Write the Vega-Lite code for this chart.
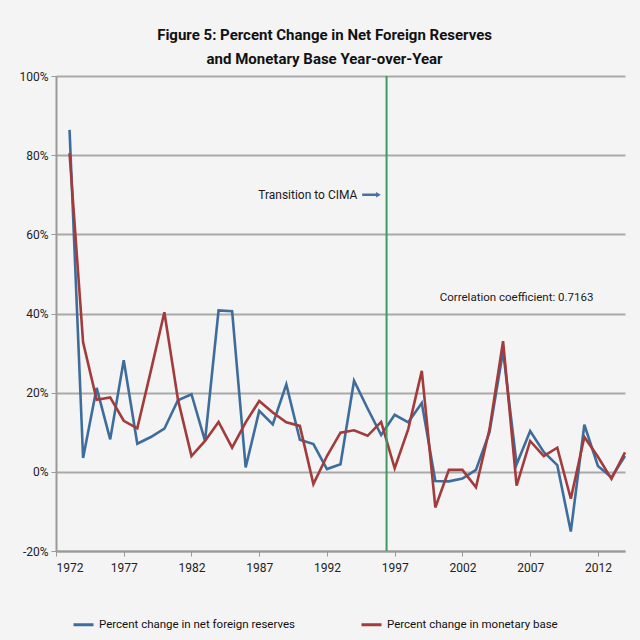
{
  "$schema": "https://vega.github.io/schema/vega-lite/v6.json",
  "width": 569,
  "height": 475,
  "autosize": "none",
  "padding": {"left": 56, "top": 76, "right": 15, "bottom": 89},
  "background": "#f4f4f4",
  "config": {
    "view": {"stroke": null},
    "font": "Roboto"
  },
  "title": {
    "text": ["Figure 5: Percent Change in Net Foreign Reserves", "and Monetary Base Year-over-Year"],
    "anchor": "middle",
    "frame": "bounds",
    "fontSize": 15,
    "fontWeight": "bold",
    "color": "#111111",
    "lineHeight": 24,
    "offset": 3
  },
  "datasets": {
    "notes": [
      {"label": "Transition to CIMA", "kind": "transition"},
      {"label": "Correlation coefficient: 0.7163", "kind": "correlation"}
    ]
  },
  "layer": [
    {
      "data": {
        "values": [
          {"year": 1973, "series": "Percent change in net foreign reserves", "value": 86.4},
          {"year": 1974, "series": "Percent change in net foreign reserves", "value": 3.5},
          {"year": 1975, "series": "Percent change in net foreign reserves", "value": 21.2},
          {"year": 1976, "series": "Percent change in net foreign reserves", "value": 8.2},
          {"year": 1977, "series": "Percent change in net foreign reserves", "value": 28.2},
          {"year": 1978, "series": "Percent change in net foreign reserves", "value": 7.1},
          {"year": 1979, "series": "Percent change in net foreign reserves", "value": 8.8},
          {"year": 1980, "series": "Percent change in net foreign reserves", "value": 10.9},
          {"year": 1981, "series": "Percent change in net foreign reserves", "value": 18.1},
          {"year": 1982, "series": "Percent change in net foreign reserves", "value": 19.6},
          {"year": 1983, "series": "Percent change in net foreign reserves", "value": 7.8},
          {"year": 1984, "series": "Percent change in net foreign reserves", "value": 40.8},
          {"year": 1985, "series": "Percent change in net foreign reserves", "value": 40.6},
          {"year": 1986, "series": "Percent change in net foreign reserves", "value": 1.1},
          {"year": 1987, "series": "Percent change in net foreign reserves", "value": 15.4},
          {"year": 1988, "series": "Percent change in net foreign reserves", "value": 12.0},
          {"year": 1989, "series": "Percent change in net foreign reserves", "value": 22.1},
          {"year": 1990, "series": "Percent change in net foreign reserves", "value": 8.1},
          {"year": 1991, "series": "Percent change in net foreign reserves", "value": 7.0},
          {"year": 1992, "series": "Percent change in net foreign reserves", "value": 0.7},
          {"year": 1993, "series": "Percent change in net foreign reserves", "value": 1.9},
          {"year": 1994, "series": "Percent change in net foreign reserves", "value": 23.0},
          {"year": 1995, "series": "Percent change in net foreign reserves", "value": 16.0},
          {"year": 1996, "series": "Percent change in net foreign reserves", "value": 9.3},
          {"year": 1997, "series": "Percent change in net foreign reserves", "value": 14.4},
          {"year": 1998, "series": "Percent change in net foreign reserves", "value": 12.5},
          {"year": 1999, "series": "Percent change in net foreign reserves", "value": 17.4},
          {"year": 2000, "series": "Percent change in net foreign reserves", "value": -2.3},
          {"year": 2001, "series": "Percent change in net foreign reserves", "value": -2.4},
          {"year": 2002, "series": "Percent change in net foreign reserves", "value": -1.7},
          {"year": 2003, "series": "Percent change in net foreign reserves", "value": 0.5},
          {"year": 2004, "series": "Percent change in net foreign reserves", "value": 10.0},
          {"year": 2005, "series": "Percent change in net foreign reserves", "value": 30.5},
          {"year": 2006, "series": "Percent change in net foreign reserves", "value": 1.9},
          {"year": 2007, "series": "Percent change in net foreign reserves", "value": 10.3},
          {"year": 2008, "series": "Percent change in net foreign reserves", "value": 5.0},
          {"year": 2009, "series": "Percent change in net foreign reserves", "value": 1.7},
          {"year": 2010, "series": "Percent change in net foreign reserves", "value": -15.1},
          {"year": 2011, "series": "Percent change in net foreign reserves", "value": 11.9},
          {"year": 2012, "series": "Percent change in net foreign reserves", "value": 1.5},
          {"year": 2013, "series": "Percent change in net foreign reserves", "value": -1.4},
          {"year": 2014, "series": "Percent change in net foreign reserves", "value": 4.0},
          {"year": 1973, "series": "Percent change in monetary base", "value": 80.5},
          {"year": 1974, "series": "Percent change in monetary base", "value": 32.7},
          {"year": 1975, "series": "Percent change in monetary base", "value": 18.2},
          {"year": 1976, "series": "Percent change in monetary base", "value": 18.8},
          {"year": 1977, "series": "Percent change in monetary base", "value": 12.9},
          {"year": 1978, "series": "Percent change in monetary base", "value": 11.0},
          {"year": 1979, "series": "Percent change in monetary base", "value": 25.5},
          {"year": 1980, "series": "Percent change in monetary base", "value": 40.3},
          {"year": 1981, "series": "Percent change in monetary base", "value": 18.3},
          {"year": 1982, "series": "Percent change in monetary base", "value": 4.0},
          {"year": 1983, "series": "Percent change in monetary base", "value": 7.8},
          {"year": 1984, "series": "Percent change in monetary base", "value": 12.6},
          {"year": 1985, "series": "Percent change in monetary base", "value": 6.1},
          {"year": 1986, "series": "Percent change in monetary base", "value": 12.5},
          {"year": 1987, "series": "Percent change in monetary base", "value": 17.9},
          {"year": 1988, "series": "Percent change in monetary base", "value": 15.0},
          {"year": 1989, "series": "Percent change in monetary base", "value": 12.5},
          {"year": 1990, "series": "Percent change in monetary base", "value": 11.6},
          {"year": 1991, "series": "Percent change in monetary base", "value": -3.1},
          {"year": 1992, "series": "Percent change in monetary base", "value": 4.0},
          {"year": 1993, "series": "Percent change in monetary base", "value": 9.9},
          {"year": 1994, "series": "Percent change in monetary base", "value": 10.5},
          {"year": 1995, "series": "Percent change in monetary base", "value": 9.1},
          {"year": 1996, "series": "Percent change in monetary base", "value": 12.6},
          {"year": 1997, "series": "Percent change in monetary base", "value": 0.9},
          {"year": 1998, "series": "Percent change in monetary base", "value": 10.8},
          {"year": 1999, "series": "Percent change in monetary base", "value": 25.5},
          {"year": 2000, "series": "Percent change in monetary base", "value": -9.0},
          {"year": 2001, "series": "Percent change in monetary base", "value": 0.5},
          {"year": 2002, "series": "Percent change in monetary base", "value": 0.5},
          {"year": 2003, "series": "Percent change in monetary base", "value": -3.9},
          {"year": 2004, "series": "Percent change in monetary base", "value": 10.8},
          {"year": 2005, "series": "Percent change in monetary base", "value": 33.0},
          {"year": 2006, "series": "Percent change in monetary base", "value": -3.5},
          {"year": 2007, "series": "Percent change in monetary base", "value": 7.8},
          {"year": 2008, "series": "Percent change in monetary base", "value": 4.0},
          {"year": 2009, "series": "Percent change in monetary base", "value": 6.1},
          {"year": 2010, "series": "Percent change in monetary base", "value": -6.8},
          {"year": 2011, "series": "Percent change in monetary base", "value": 8.8},
          {"year": 2012, "series": "Percent change in monetary base", "value": 3.8},
          {"year": 2013, "series": "Percent change in monetary base", "value": -1.8},
          {"year": 2014, "series": "Percent change in monetary base", "value": 4.9}
        ]
      },
      "mark": {"type": "line", "strokeWidth": 2.6},
      "encoding": {
        "x": {
          "field": "year",
          "type": "quantitative",
          "scale": {"domain": [1972, 2014], "nice": false, "zero": false},
          "axis": {
            "title": null,
            "values": [1972, 1977, 1982, 1987, 1992, 1997, 2002, 2007, 2012],
            "format": "d",
            "grid": false,
            "domainColor": "#9a9a9a",
            "domainWidth": 2,
            "tickColor": "#9a9a9a",
            "tickSize": 5,
            "labelFontSize": 12,
            "labelColor": "#222222",
            "labelPadding": 6
          }
        },
        "y": {
          "field": "value",
          "type": "quantitative",
          "scale": {"domain": [-20, 100], "nice": false},
          "axis": {
            "title": null,
            "values": [-20, 0, 20, 40, 60, 80, 100],
            "labelExpr": "datum.value + '%'",
            "grid": true,
            "gridColor": "#a9a9a9",
            "gridWidth": 2,
            "domainColor": "#9a9a9a",
            "domainWidth": 2,
            "tickColor": "#9a9a9a",
            "tickSize": 5,
            "labelFontSize": 12,
            "labelColor": "#222222",
            "labelPadding": 3
          }
        },
        "color": {
          "field": "series",
          "type": "nominal",
          "scale": {
            "domain": ["Percent change in net foreign reserves", "Percent change in monetary base"],
            "range": ["#3e6d9c", "#a23b3b"]
          },
          "legend": {
            "title": null,
            "orient": "none",
            "legendX": 16,
            "legendY": 537,
            "direction": "horizontal",
            "symbolType": "stroke",
            "symbolStrokeWidth": 3,
            "symbolSize": 400,
            "labelFontSize": 11.5,
            "labelColor": "#111111",
            "labelLimit": 300,
            "columnPadding": 60
          }
        }
      }
    },
    {
      "data": {"name": "notes"},
      "transform": [{"filter": "datum.kind === 'transition'"}],
      "mark": {"type": "rule", "color": "#3f9a62", "strokeWidth": 2},
      "encoding": {"x": {"datum": 1996.4, "type": "quantitative"}}
    },
    {
      "data": {"name": "notes"},
      "transform": [{"filter": "datum.kind === 'transition'"}],
      "mark": {"type": "text", "align": "right", "baseline": "middle", "fontSize": 12, "color": "#1a1a1a"},
      "encoding": {
        "x": {"datum": 1994.25, "type": "quantitative"},
        "y": {"datum": 70, "type": "quantitative"},
        "text": {"field": "label"}
      }
    },
    {
      "data": {"name": "notes"},
      "transform": [{"filter": "datum.kind === 'transition'"}],
      "mark": {"type": "rule", "color": "#4a70a0", "strokeWidth": 2.5},
      "encoding": {
        "x": {"datum": 1994.6, "type": "quantitative"},
        "x2": {"datum": 1995.7},
        "y": {"datum": 70, "type": "quantitative"}
      }
    },
    {
      "data": {"name": "notes"},
      "transform": [{"filter": "datum.kind === 'transition'"}],
      "mark": {"type": "point", "shape": "triangle-right", "filled": true, "size": 30, "color": "#4a70a0", "opacity": 1},
      "encoding": {
        "x": {"datum": 1995.8, "type": "quantitative"},
        "y": {"datum": 70, "type": "quantitative"}
      }
    },
    {
      "data": {"name": "notes"},
      "transform": [{"filter": "datum.kind === 'correlation'"}],
      "mark": {"type": "text", "align": "center", "baseline": "middle", "fontSize": 11.5, "color": "#1a1a1a"},
      "encoding": {
        "x": {"datum": 2006, "type": "quantitative"},
        "y": {"datum": 44, "type": "quantitative"},
        "text": {"field": "label"}
      }
    }
  ]
}
